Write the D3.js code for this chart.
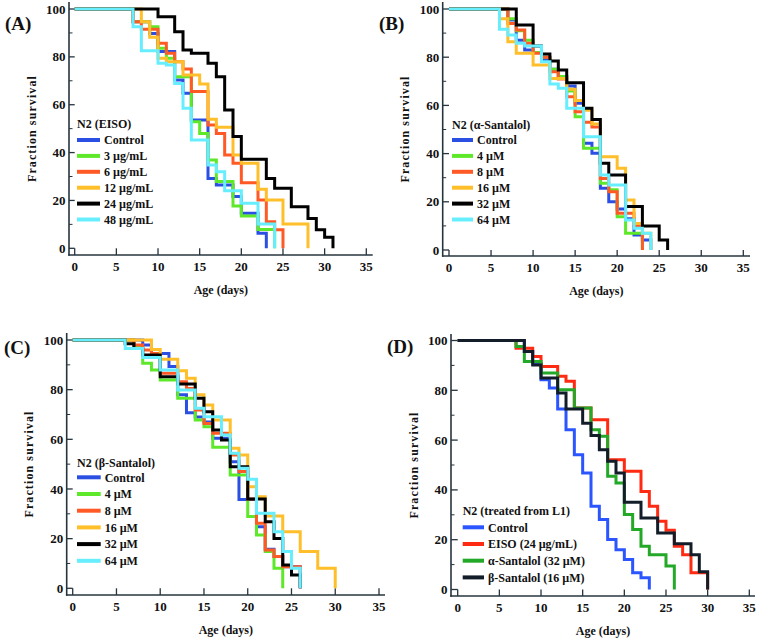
<!DOCTYPE html>
<html><head><meta charset="utf-8">
<script src="https://cdn.jsdelivr.net/npm/d3@7"></script>
<style>
body{margin:0;background:#fff}
svg{display:block}
text{font-family:"Liberation Serif","Times New Roman",serif;font-weight:bold;fill:#111}
</style>
</head><body>
<svg id="chart" width="758" height="639"></svg>
<script>
// ---------- tick labels ----------
const dayTicks = [0,5,10,15,20,25,30,35];
const survivalTicks = [0,20,40,60,80,100];
const survivalMinor = [10,30,50,70,90];

// ---------- Panel A : N2 (EISO) ----------
const namesA = ["Control","3 µg/mL","6 µg/mL","12 µg/mL","24 µg/mL","48 µg/mL"];
const controlA = [[0,100],[7,94.7],[9,89.8],[10,82.2],[12,70.3],[13,64.8],[14,53.6],[16,29.2],[17,26.5],[19,21.6],[20,14.6],[22,6.3],[23,0]];
const eiso3 = [[0,100],[7,94.7],[9,92.6],[10,83.6],[11,79.4],[12,71.7],[14,52.9],[15,48],[16,36.9],[17,27.9],[19,17.7],[20,13.5],[22,7.9],[24,0]];
const eiso6 = [[0,100],[7,94.7],[8,91.5],[10,85.7],[11,81.5],[12,78],[13,74.9],[14,65.5],[16,51.5],[17,48],[18,39],[19,35.5],[20,27.4],[22,20.2],[23,11.1],[24,7.7],[25,0]];
const eiso12 = [[0,100],[8,94.7],[9,88.2],[10,79.4],[11,78],[13,72.4],[15,68.7],[16,53.9],[17,50.6],[19,39],[20,35.5],[22,24.7],[23,20.2],[25,10.2],[28,0]];
const eiso24 = [[0,100],[10,96.8],[12,90.5],[13,82.9],[14,81.5],[16,77.3],[17,71.7],[18,57.8],[19,46.7],[20,37.2],[23,29.2],[24,25.1],[26,17.4],[28,12.5],[29,7.7],[30,4.6],[31,0]];
const eiso48 = [[0,100],[7,92.6],[8,82.6],[10,77.3],[11,76.6],[12,68.9],[13,58.5],[14,45.3],[16,34.8],[17,32],[18,24.1],[20,18.8],[22,10.2],[24,0]];

// ---------- Panel B : N2 (alpha-Santalol) ----------
const namesB = ["Control","4 µM","8 µM","16 µM","32 µM","64 µM"];
const controlB = [[0,100],[7,95.4],[8,87],[9,83],[10,82],[11,79],[12,75],[13,72],[14,68],[15,60.9],[16,44.3],[17,40.1],[18,25.6],[19,20],[20,17],[21,13],[22,6.2],[23,4.1],[24,0]];
const alpha4 = [[0,100],[7,96],[8,91],[9,87],[10,82],[11,80],[12,75],[13,72],[14,66],[15,55.3],[16,42.2],[18,27.7],[19,25],[20,13.8],[21,7],[23,0]];
const alpha8 = [[0,100],[7,94],[8,91.3],[9,85.8],[10,81.6],[11,80],[12,74],[13,71],[14,63.6],[15,57.4],[16,53],[17,51],[18,29.7],[19,24.2],[20,15.2],[22,9.7],[23,0]];
const alpha16 = [[0,100],[6,96],[7,86.4],[8,81.6],[10,76.8],[12,71.2],[14,66.7],[15,62],[16,58],[17,52.3],[18,38.7],[20,33.9],[21,20.7],[22,11],[23,7],[24,0]];
const alpha32 = [[0,100],[8,93.4],[10,84.6],[11,81.3],[12,78.4],[13,74.7],[14,69.4],[16,58.8],[17,54.2],[18,36],[19,31.1],[21,18],[23,10],[25,4.1],[26,0]];
const alpha64 = [[0,100],[6,91.6],[7,89.2],[8,85.8],[9,84.6],[11,78.1],[12,68.9],[13,67.1],[14,58.8],[16,47],[18,31.1],[19,27],[21,12.4],[22,9],[23,7],[24,0]];

// ---------- Panel C : N2 (beta-Santalol) ----------
const namesC = ["Control","4 µM","8 µM","16 µM","32 µM","64 µM"];
const controlC = [[0,100],[8,98],[9,94.6],[11,89.3],[12,77.9],[13,70.7],[14,69],[15,67],[16,60.4],[18,51],[19,35.8],[21,24.8],[22,15.7],[23,12.8],[24,8.7],[26,0]];
const beta4 = [[0,100],[7,97],[8,90.6],[9,87.9],[10,83.9],[12,76.5],[14,67.8],[15,65.1],[16,56.8],[18,45.6],[20,28.9],[21,21.5],[22,14.8],[23,8.1],[24,0]];
const beta8 = [[0,100],[7,98],[8,96],[9,94.6],[10,86.6],[12,83.2],[13,80.5],[14,71.8],[15,66.4],[16,62.4],[18,53.7],[19,47],[20,36],[21,26.2],[22,15.4],[23,12.8],[24,8.7],[26,0]];
const beta16 = [[0,100],[9,96.2],[10,92.2],[12,87.6],[13,84.6],[14,77.9],[15,73.8],[16,67.8],[18,56.4],[19,53.7],[20,40.9],[21,36.9],[22,29.1],[24,22.8],[26,14.8],[28,8.1],[30,0]];
const beta32 = [[0,100],[6,98.5],[7,96.6],[8,94],[10,85.2],[12,82.3],[14,76.5],[15,71.1],[16,63.8],[17,59.7],[18,49],[20,36],[22,26.8],[23,20.1],[24,9.4],[25,5.4],[26,0]];
const beta64 = [[0,100],[6,96.6],[8,93],[10,87.9],[12,79.9],[14,72.5],[15,69.1],[17,61.7],[18,54.4],[19,48.3],[20,43.9],[21,30.2],[23,22.8],[24,14.8],[25,8.1],[26,0]];

// ---------- Panel D : N2 (treated from L1) ----------
const namesD = ["Control","EISO (24 µg/mL)","α-Santalol (32 µM)","β-Santalol (16 µM)"];
const controlD = [[0,100],[8,95.6],[9,90.9],[10,84.2],[11,80.9],[12,72.5],[13,64.2],[14,54.1],[15,46.8],[16,33.4],[17,28.1],[18,20.1],[19,16],[20,12],[21,6.7],[22,4.7],[23,0]];
const eisoD = [[0,100],[7,96.9],[9,93.6],[10,89.6],[12,85.6],[13,83.6],[14,72.9],[16,68.2],[18,52.1],[20,47.5],[22,39.4],[23,33.4],[24,27.4],[25,23.8],[26,17.4],[27,14],[28,6.7],[30,0]];
const alphaD = [[0,100],[7,97.6],[8,91.6],[10,86.9],[12,80.2],[14,72.9],[16,64.2],[17,61.5],[18,45.5],[19,42.8],[20,30.1],[21,24.1],[22,17.4],[23,14],[25,9.4],[26,0]];
const betaD = [[0,100],[8,95.6],[9,90.2],[10,84.9],[12,78.9],[13,72.5],[15,66.8],[16,61.8],[17,56.1],[18,51.5],[19,46.8],[20,35],[22,28.7],[24,22.7],[26,18.4],[28,14],[29,7.1],[30,0]];

const colorsABC = ["#2b4fe3","#5ee82a","#ff5a26","#ffbf2a","#000000","#66eeff"];
const colorsD = ["#2a55ff","#ff2a12","#24a828","#131d29"];

const panels = [
  {tag:"(A)", title:"N2 (EISO)", names:namesA, data:[controlA,eiso3,eiso6,eiso12,eiso24,eiso48], colors:colorsABC,
   x0:74.7, x35:366.3, axX:69, axEnd:372.7, y0:248.3, y100:9, axY:255, top:2,
   tagX:5, tagY:23, lgX:77, lgTitleY:124, lgY:140, lgStep:15.9, swW:23},
  {tag:"(B)", title:"N2 (α-Santalol)", names:namesB, data:[controlB,alpha4,alpha8,alpha16,alpha32,alpha64], colors:colorsABC,
   x0:449, x35:743.3, axX:442.7, axEnd:750, y0:250, y100:9, axY:256, top:2,
   tagX:379, tagY:23, lgX:452, lgTitleY:125, lgY:140, lgStep:15.9, swW:21},
  {tag:"(C)", title:"N2 (β-Santalol)", names:namesC, data:[controlC,beta4,beta8,beta16,beta32,beta64], colors:colorsABC,
   x0:72.7, x35:379, axX:66.7, axEnd:385, y0:588.3, y100:340, axY:595, top:333,
   tagX:4, tagY:347, lgX:77, lgTitleY:462.7, lgY:477.3, lgStep:16.7, swW:23.7},
  {tag:"(D)", title:"N2 (treated from L1)", names:namesD, data:[controlD,eisoD,alphaD,betaD], colors:colorsD,
   x0:457.7, x35:749.3, axX:451, axEnd:755, y0:589.5, y100:340.5, axY:596, top:334,
   tagX:387, tagY:346, lgX:462.7, lgTitleY:510.7, lgY:527.3, lgStep:16.7, swW:21.3}
];

const svg = d3.select("#chart");
const axisColor = "#26343e";

panels.forEach(p => {
  const g = svg.append("g");
  const x = d3.scaleLinear().domain([0,35]).range([p.x0,p.x35]);
  const y = d3.scaleLinear().domain([0,100]).range([p.y0,p.y100]);
  const yTickLen = p.x0 - p.axX;
  const xTickLen = p.axY - p.y0;

  // axes lines
  g.append("line").attr("x1",p.axX).attr("x2",p.axX).attr("y1",p.top).attr("y2",p.axY+0.75)
    .attr("stroke",axisColor).attr("stroke-width",1.6);
  g.append("line").attr("x1",p.axX-0.75).attr("x2",p.axEnd).attr("y1",p.axY).attr("y2",p.axY)
    .attr("stroke",axisColor).attr("stroke-width",1.6);

  // y ticks
  survivalTicks.forEach(t => {
    g.append("line").attr("x1",p.axX).attr("x2",p.axX+yTickLen).attr("y1",y(t)).attr("y2",y(t))
      .attr("stroke",axisColor).attr("stroke-width",1.3);
    g.append("text").attr("x",p.axX-3.5).attr("y",y(t)).attr("dy","0.35em")
      .attr("text-anchor","end").attr("font-size",13).text(t);
  });
  survivalMinor.forEach(t => {
    g.append("line").attr("x1",p.axX).attr("x2",p.axX+3.5).attr("y1",y(t)).attr("y2",y(t))
      .attr("stroke",axisColor).attr("stroke-width",1);
  });
  // x ticks
  dayTicks.forEach(t => {
    g.append("line").attr("x1",x(t)).attr("x2",x(t)).attr("y1",p.axY).attr("y2",p.axY-xTickLen)
      .attr("stroke",axisColor).attr("stroke-width",1.3);
    g.append("text").attr("x",x(t)).attr("y",p.axY+11).attr("dy","0.35em")
      .attr("text-anchor","middle").attr("font-size",13).text(t);
  });

  // axis titles
  g.append("text").attr("x",(p.axX+p.axEnd)/2).attr("y",p.axY+35).attr("dy","0.35em")
    .attr("text-anchor","middle").attr("font-size",12).text("Age (days)");
  const cy = (p.top+p.axY)/2;
  g.append("text").attr("transform",`translate(${p.axX-37.5},${cy}) rotate(-90)`)
    .attr("dy","0.35em").attr("text-anchor","middle").attr("font-size",12)
    .attr("letter-spacing","1.1px").text("Fraction survival");

  // panel tag
  g.append("text").attr("x",p.tagX).attr("y",p.tagY).attr("dy","0.35em")
    .attr("font-size",19).text(p.tag);

  // curves
  const line = d3.line().x(d=>x(d[0])).y(d=>y(d[1])).curve(d3.curveStepAfter);
  p.data.forEach((s,i) => {
    g.append("path").attr("d",line(s)).attr("fill","none")
      .attr("stroke",p.colors[i]).attr("stroke-width",3).attr("stroke-linejoin","miter");
  });

  // legend
  g.append("text").attr("x",p.lgX).attr("y",p.lgTitleY).attr("dy","0.35em")
    .attr("font-size",12).text(p.title);
  p.names.forEach((n,i) => {
    const ly = p.lgY + i*p.lgStep;
    g.append("line").attr("x1",p.lgX).attr("x2",p.lgX+p.swW).attr("y1",ly).attr("y2",ly)
      .attr("stroke",p.colors[i]).attr("stroke-width",4);
    g.append("text").attr("x",p.lgX+p.swW+4).attr("y",ly).attr("dy","0.35em")
      .attr("font-size",12).text(n);
  });
});
</script>
</body></html>
